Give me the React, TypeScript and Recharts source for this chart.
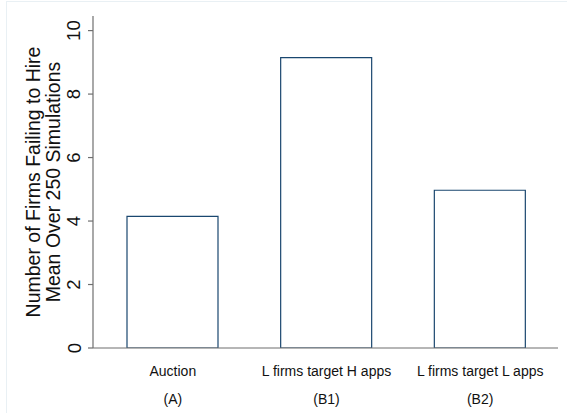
import React from 'react';
import { BarChart, Bar, XAxis, YAxis, Label } from 'recharts';

const categories = ['Auction', 'L firms target H apps', 'L firms target L apps'];
const groupLabels = ['(A)', '(B1)', '(B2)'];
const meanFailures = [4.15, 9.15, 4.97];
const yTicks = [0, 2, 4, 6, 8, 10];

const data = categories.map((name, i) => ({
  name,
  group: groupLabels[i],
  value: meanFailures[i],
}));

const FONT = '"Liberation Sans", Arial, Helvetica, sans-serif';
const AXIS_GRAY = '#6f6f6f';

const YTick = (props: any) => {
  const { y, payload } = props;
  const bx = 80.5;
  return (
    <text
      x={bx}
      y={y}
      transform={`rotate(-90 ${bx} ${y})`}
      textAnchor="middle"
      fontSize={18.5}
      fontFamily={FONT}
      fill="#111"
    >
      {payload.value}
    </text>
  );
};

const XTick = (props: any) => {
  const { x, y, payload, index } = props;
  return (
    <g>
      <text x={x} y={y + 19.5} textAnchor="middle" fontSize={14} fontFamily={FONT} fill="#111">
        {payload.value}
      </text>
      <text x={x} y={y + 48} textAnchor="middle" fontSize={14} fontFamily={FONT} fill="#111">
        {groupLabels[index]}
      </text>
    </g>
  );
};

const YTitle = (props: any) => {
  const vb = props.viewBox || {};
  const cy = (vb.y ?? 16) + (vb.height ?? 332) / 2;
  const lines = ['Number of Firms Failing to Hire', 'Mean Over 250 Simulations'];
  const xs = [40, 60];
  return (
    <g>
      {lines.map((t, i) => (
        <text
          key={t}
          x={xs[i]}
          y={cy}
          transform={`rotate(-90 ${xs[i]} ${cy})`}
          textAnchor="middle"
          fontSize={19.5}
          fontFamily={FONT}
          fill="#111"
        >
          {t}
        </text>
      ))}
    </g>
  );
};

export default function App() {
  return (
    <div style={{ position: 'absolute', left: 0, top: 0, width: 567, height: 413, background: '#fff', overflow: 'hidden' }}>
      <div
        style={{
          position: 'absolute',
          left: 6,
          top: 1,
          width: 600,
          height: 450,
          borderTop: '1.5px solid #e9f0f4',
          borderLeft: '1.5px solid #e9f0f4',
        }}
      />
      <div style={{ position: 'absolute', left: 0, top: 0 }}>
        <BarChart
          width={567}
          height={413}
          data={data}
          margin={{ top: 16, right: 9, left: 0, bottom: 0 }}
        >
          <XAxis
            dataKey="name"
            height={65}
            padding={{ left: 3, right: 1 }}
            tickLine={false}
            axisLine={{ stroke: AXIS_GRAY, strokeWidth: 1.2 }}
            tick={<XTick />}
            interval={0}
          />
          <YAxis
            width={93}
            domain={[0, 10.46]}
            ticks={yTicks}
            tickSize={5}
            tickLine={{ stroke: AXIS_GRAY, strokeWidth: 1.2 }}
            axisLine={{ stroke: AXIS_GRAY, strokeWidth: 1.2 }}
            tick={<YTick />}
            allowDataOverflow
          >
            <Label content={<YTitle />} />
          </YAxis>
          <Bar
            dataKey="value"
            fill="#ffffff"
            stroke="#1a476f"
            strokeWidth={1.2}
            barSize={91}
            isAnimationActive={false}
          />
        </BarChart>
      </div>
    </div>
  );
}
